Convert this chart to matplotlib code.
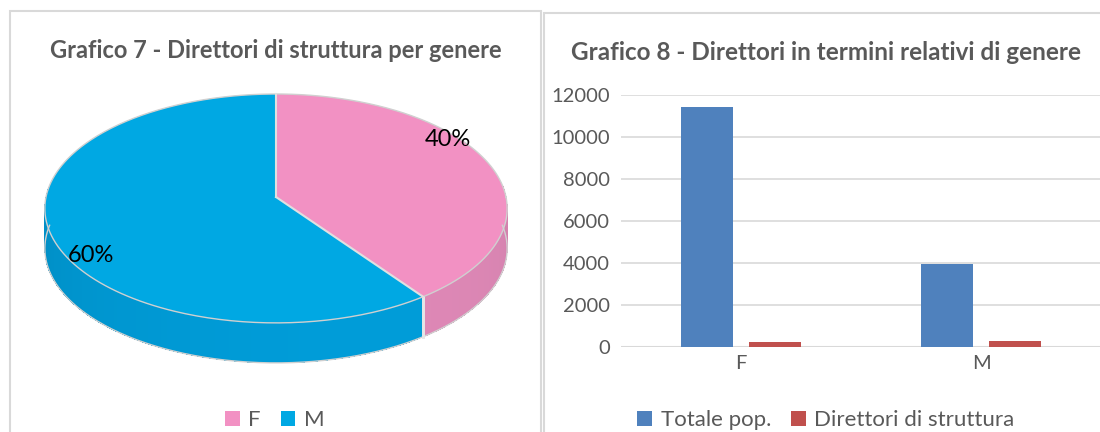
import numpy as np
import matplotlib
matplotlib.use("Agg")
import matplotlib.pyplot as plt
from matplotlib.patches import Polygon, Rectangle, Patch
from matplotlib.colors import to_rgb

plt.rcParams['font.family'] = ['Lato', 'DejaVu Sans']

# data
pie_labels = ['F', 'M']
pie_values = [40, 60]
pie_colors = ['#F291C3', '#00A8E3']
side_colors = ['#DE88B6', '#009CD8']

categories = ['F', 'M']
totale_pop = [11400, 3950]
direttori = [220, 270]
bar_names = ['Totale pop.', 'Direttori di struttura']
bar_colors = ['#4F81BD', '#C0504D']
yticks = [0, 2000, 4000, 6000, 8000, 10000, 12000]

W, H = 1100, 432
fig = plt.figure(figsize=(W / 100, H / 100), dpi=100)

# panel frames
bg = fig.add_axes([0, 0, 1, 1])
bg.set_xlim(0, W)
bg.set_ylim(H, 0)
bg.axis('off')
bg.add_patch(Rectangle((10, 11), 531, 440, fc='white', ec='#D9D9D9', lw=1.5))
bg.add_patch(Rectangle((544, 13), 570, 440, fc='white', ec='#D9D9D9', lw=1.5))

grey = '#595959'

# ---------- left: 3D-like pie ----------
pa = fig.add_axes([0, 0, 1, 1])
pa.set_xlim(0, W)
pa.set_ylim(H, 0)
pa.axis('off')

x0, y0, A, B, k, depth = 276, 197, 230, 113.3, 0.10, 40


def pt(t):
    t = np.radians(t)
    s = 1 / (1 + k * np.sin(t))
    return x0 + A * np.cos(t) * s, y0 - B * np.sin(t) * s


total = sum(pie_values)
starts = []
a = 90.0
for v in pie_values:
    starts.append((a, a - 360 * v / total))
    a -= 360 * v / total

# side walls (front half only)
front_lo, front_hi = -186, 6
for (t1, t2), col in zip(starts, side_colors):
    lo, hi = max(min(t1, t2), front_lo), min(max(t1, t2), front_hi)
    if lo >= hi:
        continue
    base = np.array(to_rgb(col))
    ts = np.linspace(lo, hi, 160)
    for ta, tb in zip(ts[:-1], ts[1:]):
        f = 0.93 + 0.07 * np.cos(np.radians((ta + tb) / 2 + 70))
        xa, ya = pt(ta)
        xb, yb = pt(tb)
        pa.add_patch(Polygon([(xa, ya), (xb, yb), (xb, yb + depth), (xa, ya + depth)],
                             closed=True, fc=np.clip(base * f, 0, 1), ec='none', lw=0,
                             antialiased=False))
    # outline of wall
    xs, ys = zip(*[pt(t) for t in ts])
    pa.plot(xs, np.array(ys) + depth, color='#D0D0D0', lw=1)
    for tt in (lo, hi):
        if tt not in (front_lo, front_hi):
            xe, ye = pt(tt)
            pa.plot([xe, xe], [ye, ye + depth], color='#E6E6E6', lw=2)

# top faces
for (t1, t2), col in zip(starts, pie_colors):
    ts = np.linspace(t1, t2, 200)
    poly = [(x0, y0)] + [pt(t) for t in ts]
    pa.add_patch(Polygon(poly, closed=True, fc=col, ec='none'))
# outline + slice borders
ts = np.linspace(0, 360, 400)
xs, ys = zip(*[pt(t) for t in ts])
pa.plot(xs, ys, color='#D0D0D0', lw=1)
for t1, _ in starts:
    xe, ye = pt(t1)
    pa.plot([x0, xe], [y0, ye], color='#E0E0E0', lw=1.5)

label_pos = [(448, 139), (91, 255)]
for v, (lx, ly) in zip(pie_values, label_pos):
    pa.text(lx, ly, f"{v / total:.0%}", ha='center', va='center', fontsize=17, color='black')

fig.text(275.5 / W, 1 - 50 / H, 'Grafico 7 - Direttori di struttura per genere',
         ha='center', va='center', fontsize=17, fontweight='bold', color=grey)

leg1 = [Patch(fc=c, ec='none') for c in pie_colors]
fig.legend(leg1, pie_labels, loc='center', bbox_to_anchor=(275 / W, 1 - 420 / H),
           ncol=2, frameon=False, fontsize=16, handlelength=0.65, handleheight=0.65,
           handletextpad=0.4, columnspacing=0.9, labelcolor=grey)

# ---------- right: bar chart ----------
ax = fig.add_axes([621 / W, 1 - 346.5 / H, 480 / W, (346.5 - 94.7) / H])
x = np.arange(len(categories))
w = 0.22
ax.bar(x - 0.142, totale_pop, w, color=bar_colors[0], zorder=3)
ax.bar(x + 0.142, direttori, w, color=bar_colors[1], zorder=3)
ax.set_xlim(-0.5, 1.5)
ax.set_ylim(0, 12000)
ax.set_yticks(yticks)
ax.set_xticks(x)
ax.set_xticklabels(categories)
for s in ax.spines.values():
    s.set_visible(False)
ax.grid(axis='y', color='#D9D9D9', lw=1.2, zorder=0)
ax.axhline(0, color='#D9D9D9', lw=1.5, zorder=2)
ax.tick_params(length=0, labelsize=14.5, labelcolor=grey)
ax.tick_params(axis='y', pad=8)
ax.tick_params(axis='x', pad=6)
ax.patch.set_alpha(0)

fig.text(826 / W, 1 - 52 / H, 'Grafico 8 - Direttori in termini relativi di genere',
         ha='center', va='center', fontsize=17.5, fontweight='bold', color=grey)

leg2 = [Patch(fc=c, ec='none') for c in bar_colors]
fig.legend(leg2, bar_names, loc='center', bbox_to_anchor=(826 / W, 1 - 420 / H),
           ncol=2, frameon=False, fontsize=16, handlelength=0.65, handleheight=0.65,
           handletextpad=0.4, columnspacing=0.9, labelcolor=grey)

fig.savefig('out.png', dpi=100)
